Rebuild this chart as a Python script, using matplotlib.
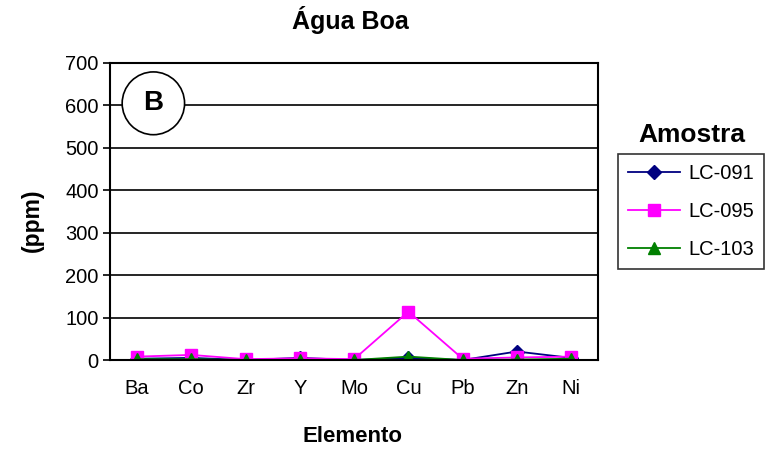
import matplotlib.pyplot as plt
from matplotlib.patches import Ellipse

plt.rcParams['font.family'] = ['Liberation Sans', 'DejaVu Sans']

elementos = ['Ba', 'Co', 'Zr', 'Y', 'Mo', 'Cu', 'Pb', 'Zn', 'Ni']
lc091 = [3, 5, 0, 5, 0, 5, 0, 20, 5]
lc095 = [8, 12, 2, 4, 2, 114, 3, 6, 8]
lc103 = [2, 2, 0, 0, 0, 8, 0, 1, 3]

fig = plt.figure(figsize=(7.69, 4.5), dpi=100)
ax = fig.add_axes([0.143, 0.2, 0.635, 0.66])
x = range(len(elementos))

ax.plot(x, lc091, color='#000080', marker='D', markersize=7, lw=1.3, label='LC-091')
ax.plot(x, lc095, color='#ff00ff', marker='s', markersize=8, lw=1.3, label='LC-095')
ax.plot(x, lc103, color='#008000', marker='^', markersize=9, lw=1.3, label='LC-103')

ax.set_xlim(-0.5, len(elementos) - 0.5)
ax.set_ylim(0, 700)
ax.set_yticks(range(0, 701, 100))
ax.set_xticks(list(x))
ax.set_xticklabels(elementos)
ax.tick_params(axis='x', length=0, pad=14, labelsize=14.5)
ax.tick_params(axis='y', length=5, width=1.2, labelsize=14.5, pad=3)
ax.yaxis.grid(True, color='black', lw=1.2)
ax.set_axisbelow(True)
for s in ax.spines.values():
    s.set_linewidth(1.5)

fig.text(0.455, 0.955, 'Água Boa', fontsize=18, fontweight='bold', ha='center', va='center')
fig.text(0.458, 0.03, 'Elemento', fontsize=16, fontweight='bold', ha='center', va='center')
fig.text(0.042, 0.51, '(ppm)', fontsize=16.5, fontweight='bold', ha='center', va='center',
         rotation=90)

# circled "B"
ax.add_patch(Ellipse((0.3, 605), 1.15, 148, transform=ax.transData,
                     facecolor='white', edgecolor='black', lw=1.2, zorder=3))
ax.text(0.3, 605, 'B', fontsize=20, fontweight='bold', ha='center', va='center', zorder=4)

fig.text(0.9, 0.70, 'Amostra', fontsize=19, fontweight='bold', ha='center', va='center')
leg = fig.legend(loc='upper left', bbox_to_anchor=(0.803, 0.658),
                 fontsize=14.5, frameon=True, fancybox=False, edgecolor='black',
                 handlelength=2.6, borderpad=0.5, labelspacing=0.95, handletextpad=0.4,
                 borderaxespad=0)
leg.get_frame().set_linewidth(1.2)

fig.savefig('out.png', dpi=100)
